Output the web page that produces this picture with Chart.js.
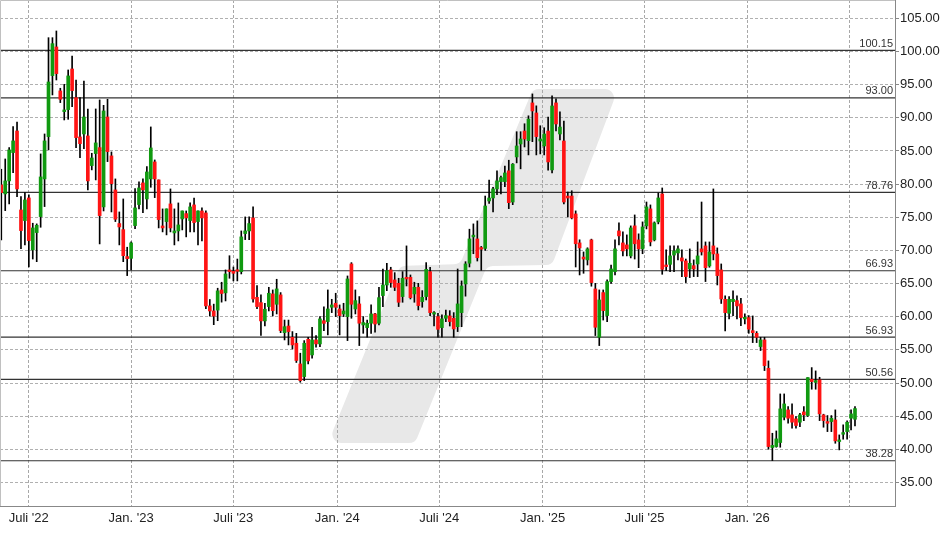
<!DOCTYPE html>
<html>
<head>
<meta charset="utf-8">
<script src="https://cdn.jsdelivr.net/npm/chart.js@4/dist/chart.umd.min.js"></script>
<style>
  html, body { margin: 0; padding: 0; background: #fff; }
  canvas { display: block; }
</style>
</head>
<body>
<canvas id="kurs" width="948" height="534"></canvas>
<script>
// Wochenkerzen (Index 0 = erste Kerze links)
const opens = [
  79.87, 78.52, 80.48, 84.75, 88.01, 76.10, 74.50, 77.91, 70.08, 72.69,
  75.10, 80.78, 87.16, 96.36, 100.68, 94.05, 90.93, 91.23, 97.36, 93.04,
  87.11, 87.56, 87.26, 82.79, 84.60, 85.50, 76.56, 90.12, 84.25, 79.12,
  74.05, 73.14, 69.07, 68.80, 73.74, 76.91, 80.18, 77.76, 80.78, 83.34,
  80.63, 73.69, 74.35, 77.01, 72.64, 72.94, 74.75, 75.55, 74.50, 76.86,
  74.35, 75.95, 75.65, 61.63, 60.87, 61.00, 64.04, 63.60, 67.06, 66.85,
  67.06, 66.80, 72.54, 72.94, 74.90, 62.93, 62.13, 59.37, 61.53, 63.44,
  61.88, 63.29, 57.60, 58.60, 56.90, 56.00, 52.88, 50.97, 56.60, 54.24,
  56.50, 55.90, 59.40, 59.27, 61.43, 62.03, 61.17, 60.42, 60.02, 67.96,
  61.17, 61.93, 58.76, 58.36, 59.02, 60.42, 59.02, 63.19, 64.79, 67.06,
  65.55, 65.04, 63.04, 65.95, 65.95, 63.44, 64.44, 62.28, 63.04, 66.80,
  60.40, 60.02, 58.36, 59.77, 60.12, 59.77, 58.50, 60.62, 64.94, 68.07,
  72.04, 71.73, 70.43, 70.30, 77.46, 77.91, 79.27, 80.38, 80.38, 82.00,
  77.30, 84.10, 86.05, 88.00, 86.55, 92.24, 90.73, 86.50, 85.75, 88.00,
  82.14, 92.24, 87.56, 86.50, 78.20, 78.20, 75.50, 71.13, 69.00, 68.57,
  71.58, 64.19, 56.90, 63.64, 60.17, 65.30, 66.80, 72.94, 71.13, 70.83,
  69.17, 73.70, 71.58, 70.23, 73.70, 76.26, 71.58, 74.30, 78.52, 67.80,
  67.90, 69.30, 69.62, 68.87, 68.42, 67.20, 67.70, 67.96, 70.23, 70.68,
  67.66, 70.68, 69.47, 67.06, 62.63, 60.52, 62.28, 62.43, 61.93, 59.67,
  59.87, 57.90, 57.50, 55.50, 56.50, 52.23, 40.27, 40.42, 41.03, 44.85,
  45.95, 45.20, 44.60, 44.10, 45.65, 45.10, 50.57, 50.10, 50.47, 45.20,
  44.19, 44.19, 44.44, 41.18, 42.28, 42.68, 44.70, 44.54
];
const highs = [
  82.24, 83.79, 85.50, 88.67, 89.37, 78.12, 78.72, 78.37, 74.10, 74.00,
  84.55, 87.56, 102.08, 102.08, 103.09, 94.45, 95.05, 97.21, 99.32, 95.70,
  93.04, 95.55, 91.33, 84.65, 91.33, 92.69, 91.88, 92.79, 84.85, 80.78,
  75.80, 77.76, 70.48, 71.28, 79.32, 80.33, 80.78, 82.64, 88.62, 83.64,
  80.63, 76.26, 76.26, 79.27, 76.26, 77.16, 75.95, 75.95, 77.16, 77.91,
  75.95, 76.41, 75.95, 62.60, 61.90, 64.30, 65.20, 67.06, 69.20, 67.50,
  68.70, 72.94, 75.05, 75.05, 76.56, 64.70, 63.30, 62.03, 64.44, 64.04,
  65.65, 63.64, 59.50, 59.50, 57.76, 57.50, 54.50, 56.40, 56.90, 58.40,
  57.15, 60.02, 61.50, 64.04, 62.63, 63.54, 61.78, 62.03, 66.15, 68.16,
  64.04, 63.04, 60.02, 59.50, 61.78, 60.52, 64.44, 67.20, 68.06, 67.46,
  66.65, 65.80, 66.80, 70.68, 66.30, 65.20, 65.04, 63.94, 68.16, 67.46,
  60.77, 60.52, 60.27, 61.02, 60.92, 60.62, 67.20, 65.40, 68.30, 73.20,
  74.00, 74.45, 70.60, 78.20, 80.60, 79.50, 82.00, 81.20, 82.70, 83.60,
  83.10, 87.90, 87.90, 89.10, 90.30, 93.60, 91.80, 88.80, 88.50, 90.10,
  93.30, 92.84, 90.90, 89.50, 78.80, 79.00, 75.96, 71.60, 69.77, 70.40,
  71.70, 65.04, 64.04, 64.04, 65.55, 67.80, 71.60, 74.15, 72.79, 72.34,
  73.70, 75.35, 72.50, 74.30, 77.30, 76.86, 74.30, 78.67, 79.42, 70.07,
  70.68, 70.68, 70.68, 70.07, 68.70, 70.23, 68.57, 71.28, 77.30, 71.28,
  71.28, 79.27, 70.38, 67.96, 63.14, 63.04, 63.90, 63.14, 62.78, 60.42,
  60.17, 60.12, 57.76, 56.90, 56.90, 53.34, 42.43, 42.78, 48.36, 48.36,
  46.45, 46.85, 44.95, 45.45, 46.45, 50.82, 52.33, 51.83, 50.87, 45.30,
  45.10, 45.10, 45.95, 42.18, 43.70, 44.29, 45.95, 46.45
];
const lows = [
  71.58, 76.00, 77.00, 81.73, 78.12, 70.27, 70.83, 67.50, 68.70, 68.30,
  73.49, 76.61, 85.15, 93.44, 95.70, 92.29, 89.67, 89.77, 91.68, 85.50,
  83.99, 85.35, 79.12, 82.14, 80.63, 70.98, 75.95, 83.39, 75.80, 74.35,
  70.83, 68.30, 66.20, 67.06, 73.29, 76.26, 75.70, 76.26, 79.52, 77.96,
  73.39, 72.79, 72.34, 72.79, 70.83, 71.43, 73.09, 72.04, 72.79, 72.79,
  70.83, 71.43, 61.20, 60.10, 58.80, 59.40, 62.20, 62.38, 65.80, 65.40,
  65.40, 66.45, 71.63, 71.63, 62.18, 61.20, 57.20, 58.60, 60.87, 60.12,
  60.42, 57.60, 56.50, 55.75, 55.15, 53.10, 50.12, 50.37, 52.88, 53.74,
  55.40, 55.50, 57.90, 57.26, 60.62, 60.02, 57.26, 60.02, 56.40, 59.77,
  60.42, 55.65, 57.50, 56.90, 57.50, 57.66, 58.76, 61.53, 63.94, 64.44,
  63.94, 61.53, 62.18, 64.64, 62.68, 62.18, 61.02, 61.43, 62.53, 60.17,
  58.60, 56.90, 56.90, 59.27, 58.60, 56.90, 57.76, 58.50, 63.10, 67.50,
  69.50, 68.40, 67.00, 70.00, 77.10, 75.80, 78.40, 78.50, 79.60, 76.30,
  76.90, 83.20, 82.30, 85.60, 84.40, 86.40, 84.40, 84.55, 84.40, 82.10,
  81.70, 88.00, 86.66, 77.00, 75.05, 74.75, 67.50, 66.30, 66.55, 67.80,
  64.60, 57.16, 55.65, 59.50, 59.27, 65.04, 66.30, 70.83, 69.17, 69.17,
  68.87, 68.70, 67.40, 69.50, 73.24, 70.68, 71.43, 74.00, 66.40, 66.95,
  66.80, 66.80, 68.56, 66.05, 65.15, 65.90, 66.05, 66.05, 69.30, 65.30,
  67.46, 68.57, 64.79, 62.00, 57.86, 59.67, 60.17, 59.67, 58.66, 58.90,
  57.50, 56.10, 56.10, 54.90, 51.88, 40.02, 38.30, 40.32, 40.32, 44.44,
  43.94, 43.18, 43.18, 43.44, 44.34, 44.95, 49.07, 49.07, 44.34, 43.34,
  42.68, 42.68, 40.92, 39.92, 41.53, 41.53, 42.93, 43.54
];
const closes = [
  78.72, 80.48, 85.15, 86.51, 79.27, 72.99, 77.61, 71.48, 73.39, 73.79,
  81.08, 86.51, 95.40, 101.18, 96.66, 92.79, 91.18, 96.31, 94.10, 87.01,
  86.10, 90.12, 80.48, 83.94, 86.21, 75.25, 91.03, 84.90, 80.07, 74.70,
  73.54, 69.20, 68.76, 71.13, 76.41, 79.42, 79.12, 81.83, 85.45, 80.78,
  74.65, 73.39, 76.26, 73.39, 72.94, 73.84, 75.95, 74.90, 76.56, 74.20,
  75.95, 74.90, 61.63, 60.87, 60.10, 63.90, 63.50, 66.45, 66.80, 66.55,
  66.85, 72.04, 72.94, 74.05, 62.68, 61.53, 59.37, 61.13, 63.54, 60.92,
  64.19, 57.91, 58.50, 57.76, 55.75, 53.40, 50.37, 56.00, 53.34, 56.50,
  55.90, 59.67, 59.00, 61.17, 61.78, 61.43, 60.17, 60.87, 65.70, 61.88,
  62.43, 59.02, 59.12, 59.02, 60.42, 58.90, 62.88, 64.79, 66.95, 65.15,
  64.44, 62.18, 65.80, 65.70, 62.88, 64.44, 61.68, 62.93, 67.15, 60.62,
  60.62, 58.10, 59.67, 60.17, 59.27, 58.16, 61.93, 64.64, 67.96, 71.73,
  72.30, 68.90, 70.18, 76.70, 77.90, 79.27, 80.48, 80.98, 81.68, 77.20,
  83.00, 85.75, 86.80, 86.80, 89.80, 91.03, 87.16, 86.80, 87.56, 83.34,
  91.78, 89.07, 88.60, 77.30, 77.90, 74.90, 71.00, 70.38, 68.70, 70.23,
  65.15, 58.41, 62.53, 60.92, 65.30, 67.20, 70.23, 72.19, 69.92, 70.23,
  73.39, 71.00, 70.23, 73.54, 76.56, 71.28, 74.15, 77.91, 67.15, 67.56,
  69.17, 69.92, 70.23, 68.40, 66.05, 68.06, 67.20, 69.17, 69.77, 67.40,
  69.77, 69.47, 66.20, 62.68, 60.62, 62.63, 62.63, 61.63, 59.87, 59.92,
  58.11, 57.60, 56.90, 56.50, 52.63, 40.42, 40.60, 41.58, 46.10, 46.85,
  44.70, 44.10, 43.60, 45.20, 45.20, 50.82, 50.22, 50.37, 45.35, 44.34,
  43.94, 44.70, 41.28, 41.43, 42.53, 44.09, 45.35, 46.15
];

// Achsen: Monatsanfaenge in Kerzen-Index-Einheiten
const xTickPos = [6.96, 33.0, 58.97, 85.4, 111.3, 137.6, 163.5, 189.6, 215.7];
const xTickLabels = ["Juli '22", "Jan. '23", "Juli '23", "Jan. '24", "Juli '24", "Jan. '25", "Juli '25", "Jan. '26", ""];
const yTicks = [35, 40, 45, 50, 55, 60, 65, 70, 75, 80, 85, 90, 95, 100, 105];

// horizontale Marken
const levels = [100.15, 93.00, 78.76, 66.93, 56.93, 50.56, 38.28];

const GREEN = "#109a10";
const RED = "#ff1414";

const bodies = opens.map((o, i) => ({ x: i, y: [o, closes[i]] }));
const wicks = lows.map((l, i) => ({ x: i, y: [l, highs[i]] }));
const bodyColors = opens.map((o, i) => (closes[i] >= o ? GREEN : RED));

// Logo-Wasserzeichen, relativ zur Zeichenflaeche
const logoShape = [
  [0.3665, 0.8755], [0.4469, 0.5257], [0.514, 0.5217], [0.5955, 0.1759],
  [0.6905, 0.1759], [0.6168, 0.5237], [0.5441, 0.5257], [0.4637, 0.8755]
];

function roundPoly(ctx, pts, r) {
  const n = pts.length;
  ctx.beginPath();
  ctx.moveTo((pts[0][0] + pts[1][0]) / 2, (pts[0][1] + pts[1][1]) / 2);
  for (let k = 1; k <= n; k++) {
    const p = pts[k % n];
    const q = pts[(k + 1) % n];
    ctx.arcTo(p[0], p[1], q[0], q[1], r);
  }
  ctx.closePath();
}

const extras = {
  id: "extras",
  beforeDraw(chart) {
    const { ctx, chartArea: a } = chart;
    const w = a.right - a.left, h = a.bottom - a.top;
    const pts = logoShape.map(([fx, fy]) => [a.left + fx * w, a.top + fy * h]);
    ctx.save();
    ctx.fillStyle = "#e8e8e8";
    roundPoly(ctx, pts, 9);
    ctx.fill();
    ctx.restore();
  },
  beforeDatasetsDraw(chart) {
    const { ctx, chartArea: a, scales: { y } } = chart;
    ctx.save();
    ctx.strokeStyle = "#333";
    ctx.lineWidth = 1.2;
    ctx.fillStyle = "#333";
    ctx.font = '11px "Liberation Sans", Arial, sans-serif';
    ctx.textAlign = "right";
    ctx.textBaseline = "bottom";
    levels.forEach((v) => {
      const py = y.getPixelForValue(v);
      ctx.beginPath();
      ctx.moveTo(a.left, py);
      ctx.lineTo(a.right, py);
      ctx.stroke();
      ctx.fillText(v.toFixed(2), a.right - 2, py - 1);
    });
    ctx.restore();
  },
  afterDraw(chart) {
    const { ctx, chartArea: a } = chart;
    ctx.save();
    ctx.strokeStyle = "#c0c0c0";
    ctx.lineWidth = 1;
    ctx.beginPath();
    ctx.moveTo(a.left + 0.5, a.bottom);
    ctx.lineTo(a.left + 0.5, a.top + 0.5);
    ctx.lineTo(a.right, a.top + 0.5);
    ctx.stroke();
    ctx.restore();
  }
};

new Chart(document.getElementById("kurs"), {
  type: "bar",
  data: {
    datasets: [
      {
        data: bodies,
        backgroundColor: bodyColors,
        borderWidth: 0,
        barThickness: 3,
        minBarLength: 1.5,
        grouped: false
      },
      {
        data: wicks,
        backgroundColor: "#000",
        borderWidth: 0,
        barThickness: 1,
        grouped: false
      }
    ]
  },
  options: {
    responsive: false,
    animation: false,
    layout: { padding: 0 },
    plugins: { legend: { display: false }, tooltip: { enabled: false } },
    scales: {
      x: {
        type: "linear",
        min: -0.33,
        max: 227.17,
        offset: false,
        afterFit(scale) {
          scale.height = 28;
          scale.paddingLeft = 0;
          scale.paddingRight = 0;
        },
        afterBuildTicks(scale) { scale.ticks = xTickPos.map((v) => ({ value: v })); },
        grid: { color: "#a8a8a8", drawTicks: false, offset: false },
        border: { color: "#888", dash: [3, 2] },
        ticks: {
          autoSkip: false,
          maxRotation: 0,
          padding: 5,
          color: "#222",
          font: { family: '"Liberation Sans", Arial, sans-serif', size: 13 },
          callback: (v, i) => xTickLabels[i]
        }
      },
      y: {
        position: "right",
        min: 31.46,
        max: 107.76,
        afterFit(scale) {
          scale.width = 53;
          scale.paddingTop = 0;
          scale.paddingBottom = 0;
        },
        afterBuildTicks(scale) { scale.ticks = yTicks.map((v) => ({ value: v })); },
        grid: { color: "#b0b0b0", tickLength: 4, tickColor: "#888", tickBorderDash: [] },
        border: { color: "#888", dash: [3, 2] },
        ticks: {
          padding: 1,
          color: "#222",
          font: { family: '"Liberation Sans", Arial, sans-serif', size: 13 },
          callback: (v) => Number(v).toFixed(2)
        }
      }
    }
  },
  plugins: [extras]
});
</script>
</body>
</html>
